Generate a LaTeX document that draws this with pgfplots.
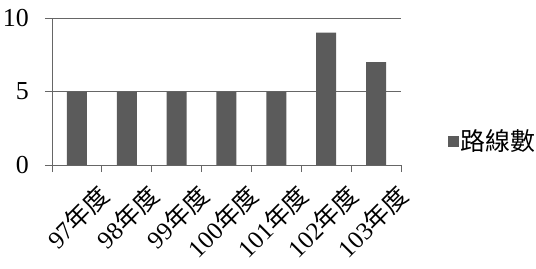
\documentclass[border=0pt]{standalone}
\usepackage{fontspec}
\setmainfont{Liberation Serif}
\newfontfamily\cjk{Noto Sans CJK TC}
\usepackage{pgfplots}
\pgfplotsset{compat=1.18}
\definecolor{barc}{HTML}{5B5B5B}
\definecolor{linec}{HTML}{666666}
\begin{document}
\begin{tikzpicture}
\useasboundingbox (-52bp,-104bp) rectangle (484bp,165bp);
\begin{axis}[
 at={(0,0)}, anchor=south west,
 scale only axis, width=349bp, height=147bp,
 xmin=-0.5, xmax=6.5, ymin=0, ymax=10,
 axis x line*=bottom, axis y line*=left,
 axis line style={linec, line width=0.8bp, -},
 ytick={0,5,10}, ymajorgrids, grid style={linec, line width=0.8bp},
 xtick={0,...,6},
 xticklabels={97{\cjk 年度},98{\cjk 年度},99{\cjk 年度},100{\cjk 年度},101{\cjk 年度},102{\cjk 年度},103{\cjk 年度}},
 minor xtick={-0.5,0.5,...,6.5},
 major x tick style={draw=none},
 tick align=outside, major tick length=7bp, minor tick length=7bp,
 tick style={linec, line width=0.8bp},
 /pgf/number format/assume math mode=true,
 ticklabel style={font=\fontsize{26}{30}\selectfont},
 yticklabel style={anchor=east, inner sep=0pt, xshift=-16bp},
 xticklabel style={rotate=45, anchor=north east, inner sep=0pt, xshift=6bp, yshift=-21bp, font=\fontsize{25}{28}\selectfont},
 legend style={at={(1.135,0.163)}, anchor=west, draw=none, fill=none, inner sep=0pt, font=\fontsize{25}{30}\selectfont, nodes={inner sep=1.5bp}},
 legend image code/.code={\fill[barc] (0bp,-5.5bp) rectangle (11bp,5.5bp);},
]
\addplot[ybar, bar width=20bp, bar shift=0pt, fill=barc, draw=none] coordinates {(0,5) (1,5) (2,5) (3,5) (4,5) (5,9) (6,7)};
\addlegendentry{\cjk 路線數}
\end{axis}
\end{tikzpicture}
\end{document}
